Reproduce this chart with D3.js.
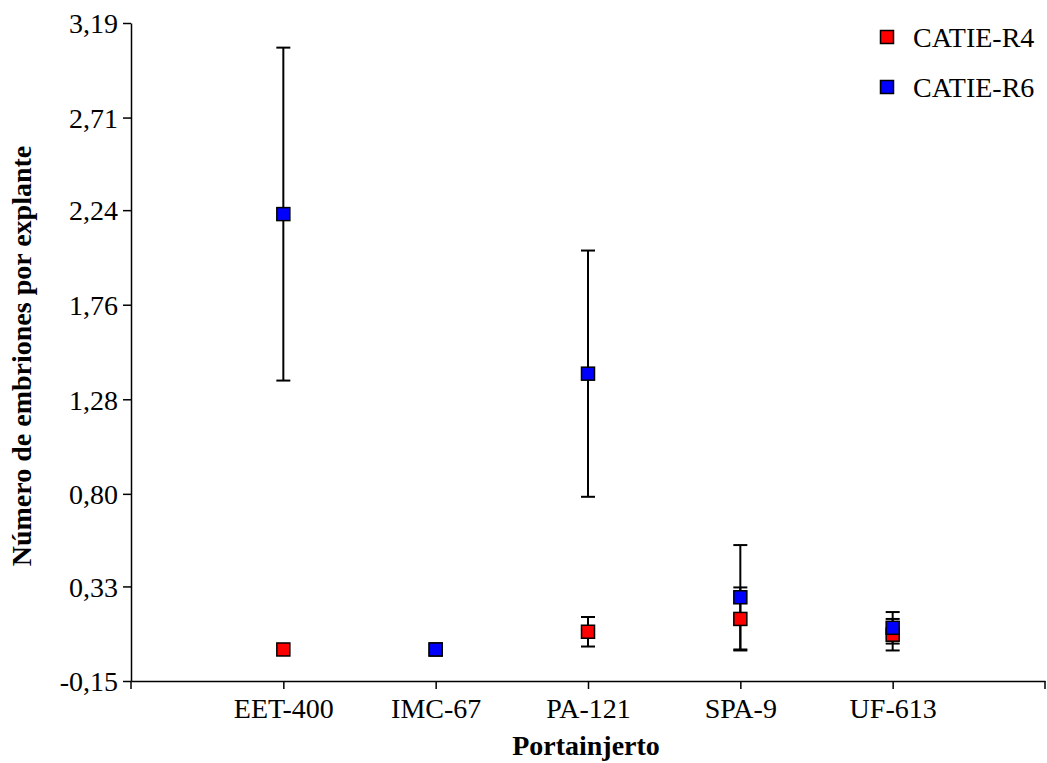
<!DOCTYPE html>
<html>
<head>
<meta charset="utf-8">
<script src="https://cdn.jsdelivr.net/npm/d3@7"></script>
<style>
  body { margin: 0; background: #fff; }
  svg { display: block; }
</style>
</head>
<body>
<svg id="chart"></svg>
<script>
const categories = ['EET-400', 'IMC-67', 'PA-121', 'SPA-9', 'UF-613'];
const seriesNames = ['CATIE-R4', 'CATIE-R6'];
const r4Values = [0.01, 0.01, 0.10, 0.165, 0.085];
const r4Errors = [0, 0, 0.075, 0.16, 0.08];
const r6Values = [2.22, 0.01, 1.41, 0.275, 0.12];
const r6Errors = [0.845, 0, 0.625, 0.265, 0.08];
const yTicks = [-0.15, 0.33, 0.80, 1.28, 1.76, 2.24, 2.71, 3.19];
const colors = ['#ff0000', '#0000ff'];

const width = 1047, height = 763;
const font = 'Liberation Serif';
const fs = 28;

const svg = d3.select('#chart')
  .attr('width', width)
  .attr('height', height);

const x = d3.scalePoint()
  .domain(categories)
  .range([131, 1045])
  .padding(1);

const y = d3.scaleLinear()
  .domain([yTicks[0], yTicks[yTicks.length - 1]])
  .range([681, 23]);

// axes
const xAxis = svg.append('g')
  .attr('transform', `translate(0,${y.range()[0]})`)
  .call(d3.axisBottom(x).tickSize(8).tickSizeOuter(0).tickPadding(9));
xAxis.selectAll('.end-tick')
  .data(x.range())
  .enter()
  .append('line')
  .attr('x1', d => d).attr('x2', d => d)
  .attr('y1', 0).attr('y2', 8)
  .attr('stroke', '#000')
  .attr('stroke-width', 1.5);

const yAxis = svg.append('g')
  .attr('transform', `translate(${x.range()[0]},0)`)
  .call(d3.axisLeft(y)
    .tickValues(yTicks)
    .tickFormat(d => d.toFixed(2).replace('.', ','))
    .tickSize(8)
    .tickSizeOuter(0)
    .tickPadding(5));

[xAxis, yAxis].forEach(g => {
  g.attr('font-family', font).attr('font-size', fs);
  g.selectAll('path.domain').attr('stroke', '#000').attr('stroke-width', 1.5);
  g.selectAll('.tick line').attr('stroke', '#000').attr('stroke-width', 1.5);
  g.selectAll('.tick text').attr('fill', '#000');
});
yAxis.selectAll('.tick text').attr('dy', '0.35em');

// axis titles
svg.append('text')
  .attr('x', (x.range()[0] + x.range()[1]) / 2 - 2)
  .attr('y', 755)
  .attr('text-anchor', 'middle')
  .attr('font-family', font)
  .attr('font-size', fs)
  .attr('font-weight', 'bold')
  .text('Portainjerto');

svg.append('text')
  .attr('transform', `translate(31,${(y.range()[0] + y.range()[1]) / 2 + 4}) rotate(-90)`)
  .attr('text-anchor', 'middle')
  .attr('font-family', font)
  .attr('font-size', fs)
  .attr('font-weight', 'bold')
  .text('Número de embriones por explante');

// data
const series = [
  { name: seriesNames[0], values: r4Values, errors: r4Errors, color: colors[0] },
  { name: seriesNames[1], values: r6Values, errors: r6Errors, color: colors[1] }
];

const points = series.flatMap(s => categories.map((c, i) => ({
  cat: c, v: s.values[i], e: s.errors[i], color: s.color
})));

const bars = svg.append('g')
  .attr('stroke', '#000')
  .attr('stroke-width', 2)
  .selectAll('g')
  .data(points.filter(d => d.e > 0))
  .enter()
  .append('g');

bars.append('line')
  .attr('x1', d => x(d.cat)).attr('x2', d => x(d.cat))
  .attr('y1', d => y(d.v + d.e)).attr('y2', d => y(d.v - d.e));
bars.append('line')
  .attr('x1', d => x(d.cat) - 7).attr('x2', d => x(d.cat) + 7)
  .attr('y1', d => y(d.v + d.e)).attr('y2', d => y(d.v + d.e));
bars.append('line')
  .attr('x1', d => x(d.cat) - 7).attr('x2', d => x(d.cat) + 7)
  .attr('y1', d => y(d.v - d.e)).attr('y2', d => y(d.v - d.e));

const ms = 13;
svg.append('g')
  .selectAll('rect')
  .data(points)
  .enter()
  .append('rect')
  .attr('x', d => x(d.cat) - ms / 2)
  .attr('y', d => y(d.v) - ms / 2)
  .attr('width', ms)
  .attr('height', ms)
  .attr('fill', d => d.color)
  .attr('stroke', '#000')
  .attr('stroke-width', 1.5);

// legend
const legend = svg.append('g')
  .selectAll('g')
  .data(series)
  .enter()
  .append('g')
  .attr('transform', (d, i) => `translate(887,${37 + i * 50})`);

legend.append('rect')
  .attr('x', -ms / 2).attr('y', -ms / 2)
  .attr('width', ms).attr('height', ms)
  .attr('fill', d => d.color)
  .attr('stroke', '#000')
  .attr('stroke-width', 1.5);

legend.append('text')
  .attr('x', 26)
  .attr('dy', '0.35em')
  .attr('font-family', font)
  .attr('font-size', fs)
  .text(d => d.name);
</script>
</body>
</html>
